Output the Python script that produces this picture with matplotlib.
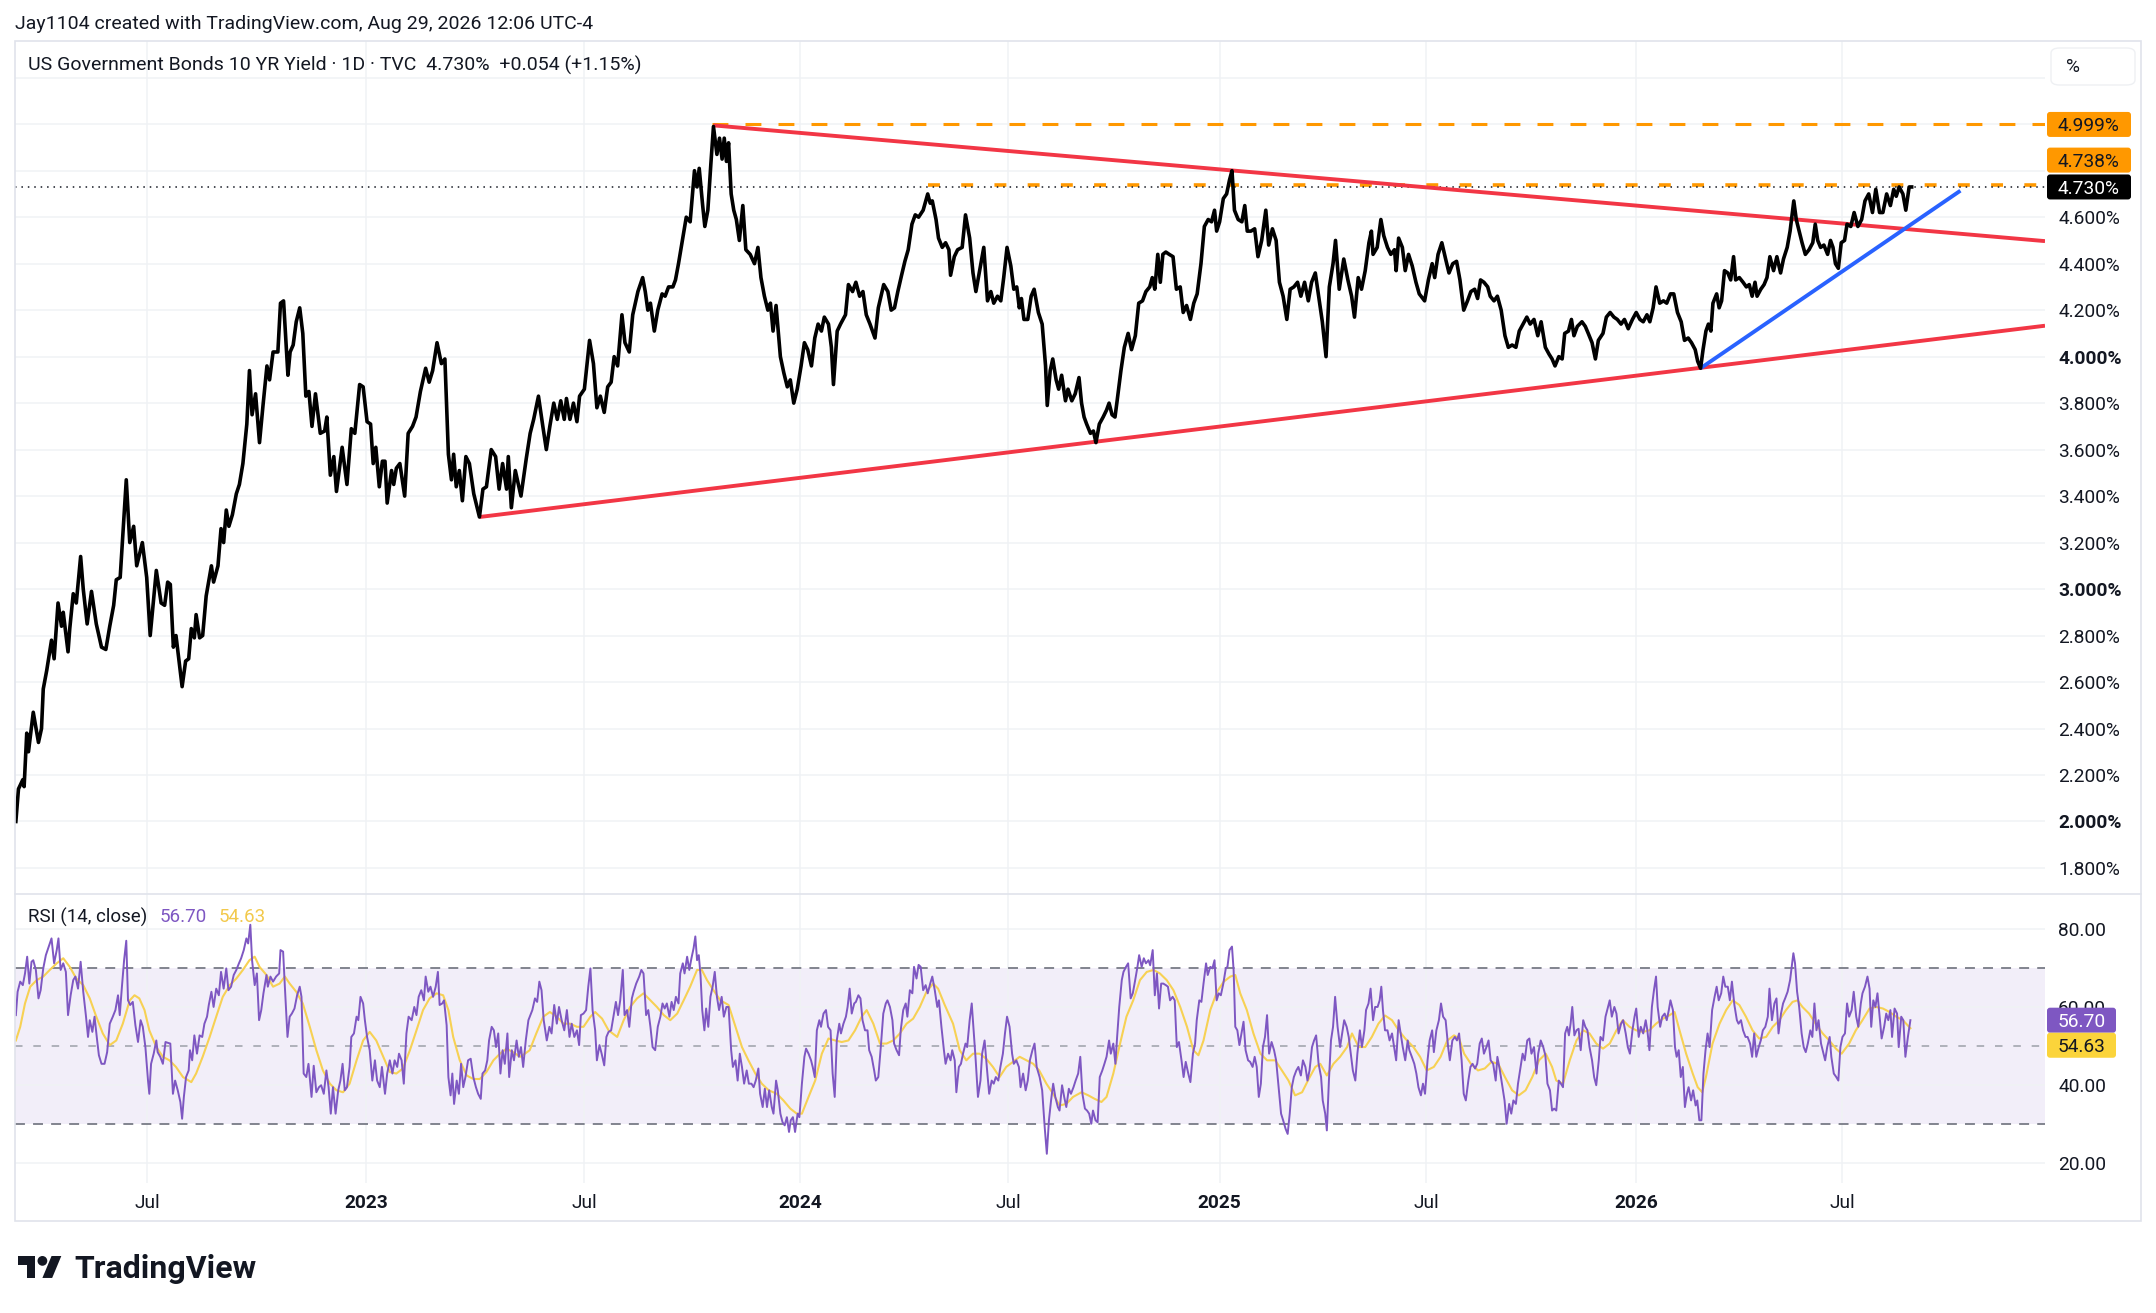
import numpy as np
import matplotlib.pyplot as plt
from matplotlib.patches import Rectangle, FancyBboxPatch, Polygon, Circle
from matplotlib.transforms import IdentityTransform

W, H = 2156, 1313
plt.rcParams['font.family'] = ['Roboto', 'DejaVu Sans']

TEXT = '#131722'
GRID = '#F0F2F5'
RED = '#F23645'
BLUE = '#2962FF'
ORANGE = '#FF9800'
PURPLE = '#7E57C2'
YELLOW = '#F7D154'

# US 10Y yield, daily close (decimal year, %)
price_pts = [
    (2022.198, 2.00), (2022.204, 2.14), (2022.214, 2.18), (2022.217, 2.15), (2022.223, 2.38),
    (2022.227, 2.30), (2022.238, 2.47), (2022.250, 2.34), (2022.257, 2.40), (2022.261, 2.57),
    (2022.269, 2.65), (2022.280, 2.78), (2022.286, 2.70), (2022.295, 2.94), (2022.303, 2.84),
    (2022.307, 2.90), (2022.318, 2.73), (2022.322, 2.83), (2022.330, 2.98), (2022.337, 2.94),
    (2022.347, 3.14), (2022.353, 3.00), (2022.362, 2.85), (2022.372, 2.99), (2022.383, 2.85),
    (2022.395, 2.75), (2022.405, 2.74), (2022.414, 2.84), (2022.423, 2.93), (2022.429, 3.04),
    (2022.438, 3.05), (2022.452, 3.47), (2022.460, 3.20), (2022.469, 3.27), (2022.476, 3.10),
    (2022.489, 3.20), (2022.499, 3.05), (2022.507, 2.80), (2022.521, 3.08), (2022.532, 2.94),
    (2022.540, 2.93), (2022.547, 3.03), (2022.553, 3.02), (2022.560, 2.75), (2022.566, 2.80),
    (2022.580, 2.58), (2022.588, 2.69), (2022.595, 2.70), (2022.601, 2.83), (2022.608, 2.79),
    (2022.612, 2.89), (2022.620, 2.79), (2022.627, 2.80), (2022.635, 2.97), (2022.647, 3.10),
    (2022.652, 3.03), (2022.662, 3.10), (2022.669, 3.26), (2022.675, 3.20), (2022.681, 3.34),
    (2022.687, 3.27), (2022.695, 3.32), (2022.704, 3.41), (2022.711, 3.45), (2022.719, 3.54),
    (2022.728, 3.71), (2022.734, 3.94), (2022.740, 3.75), (2022.748, 3.84), (2022.757, 3.63),
    (2022.765, 3.79), (2022.774, 3.96), (2022.780, 3.90), (2022.788, 4.02), (2022.799, 4.02),
    (2022.805, 4.23), (2022.812, 4.24), (2022.822, 3.92), (2022.827, 4.02), (2022.834, 4.05),
    (2022.841, 4.15), (2022.849, 4.21), (2022.856, 4.10), (2022.863, 3.83), (2022.870, 3.85),
    (2022.877, 3.70), (2022.885, 3.84), (2022.896, 3.67), (2022.906, 3.68), (2022.911, 3.74),
    (2022.919, 3.49), (2022.927, 3.57), (2022.933, 3.42), (2022.946, 3.61), (2022.957, 3.45),
    (2022.967, 3.69), (2022.975, 3.67), (2022.986, 3.88), (2022.994, 3.87), (2023.003, 3.72),
    (2023.011, 3.71), (2023.017, 3.54), (2023.023, 3.61), (2023.031, 3.44), (2023.038, 3.55),
    (2023.044, 3.55), (2023.049, 3.37), (2023.059, 3.51), (2023.064, 3.45), (2023.070, 3.52),
    (2023.078, 3.54), (2023.089, 3.40), (2023.097, 3.67), (2023.107, 3.70), (2023.115, 3.74),
    (2023.125, 3.85), (2023.137, 3.95), (2023.145, 3.89), (2023.153, 3.94), (2023.163, 4.06),
    (2023.173, 3.97), (2023.181, 3.99), (2023.189, 3.58), (2023.196, 3.47), (2023.201, 3.58),
    (2023.207, 3.44), (2023.214, 3.51), (2023.221, 3.38), (2023.229, 3.57), (2023.237, 3.54),
    (2023.247, 3.41), (2023.260, 3.31), (2023.268, 3.43), (2023.276, 3.44), (2023.287, 3.60),
    (2023.297, 3.57), (2023.305, 3.43), (2023.313, 3.54), (2023.322, 3.43), (2023.326, 3.57),
    (2023.333, 3.35), (2023.342, 3.51), (2023.355, 3.40), (2023.367, 3.56), (2023.376, 3.67),
    (2023.384, 3.73), (2023.395, 3.83), (2023.405, 3.70), (2023.413, 3.60), (2023.421, 3.70),
    (2023.430, 3.80), (2023.438, 3.73), (2023.446, 3.81), (2023.454, 3.73), (2023.459, 3.82),
    (2023.467, 3.73), (2023.475, 3.80), (2023.483, 3.72), (2023.489, 3.83), (2023.500, 3.86),
    (2023.512, 4.07), (2023.521, 3.97), (2023.529, 3.78), (2023.537, 3.83), (2023.546, 3.76),
    (2023.554, 3.87), (2023.562, 3.89), (2023.569, 4.00), (2023.577, 3.96), (2023.587, 4.18),
    (2023.594, 4.06), (2023.604, 4.02), (2023.612, 4.18), (2023.624, 4.28), (2023.635, 4.34),
    (2023.641, 4.28), (2023.647, 4.20), (2023.653, 4.23), (2023.662, 4.11), (2023.670, 4.20),
    (2023.680, 4.27), (2023.687, 4.26), (2023.695, 4.30), (2023.705, 4.30), (2023.711, 4.33),
    (2023.718, 4.40), (2023.728, 4.51), (2023.736, 4.60), (2023.745, 4.58), (2023.755, 4.80),
    (2023.761, 4.73), (2023.766, 4.81), (2023.774, 4.65), (2023.779, 4.56), (2023.786, 4.63),
    (2023.793, 4.83), (2023.799, 4.99), (2023.807, 4.87), (2023.813, 4.94), (2023.819, 4.85),
    (2023.824, 4.94), (2023.829, 4.84), (2023.834, 4.92), (2023.840, 4.70), (2023.846, 4.63),
    (2023.852, 4.59), (2023.859, 4.50), (2023.867, 4.65), (2023.874, 4.46), (2023.884, 4.44),
    (2023.894, 4.40), (2023.902, 4.47), (2023.909, 4.34), (2023.917, 4.26), (2023.925, 4.20),
    (2023.931, 4.23), (2023.937, 4.11), (2023.944, 4.22), (2023.954, 4.00), (2023.962, 3.93),
    (2023.970, 3.87), (2023.977, 3.90), (2023.985, 3.80), (2023.993, 3.86), (2024.002, 3.96),
    (2024.010, 4.06), (2024.018, 4.03), (2024.027, 3.96), (2024.035, 4.08), (2024.043, 4.14),
    (2024.051, 4.11), (2024.058, 4.17), (2024.068, 4.14), (2024.075, 4.04), (2024.080, 3.88),
    (2024.089, 4.11), (2024.097, 4.14), (2024.109, 4.18), (2024.116, 4.31), (2024.126, 4.28),
    (2024.134, 4.32), (2024.143, 4.26), (2024.151, 4.28), (2024.159, 4.18), (2024.168, 4.14),
    (2024.180, 4.08), (2024.188, 4.21), (2024.201, 4.31), (2024.211, 4.28), (2024.219, 4.20),
    (2024.227, 4.21), (2024.235, 4.28), (2024.244, 4.35), (2024.252, 4.41), (2024.260, 4.46),
    (2024.269, 4.57), (2024.277, 4.61), (2024.285, 4.60), (2024.296, 4.63), (2024.307, 4.70),
    (2024.313, 4.66), (2024.318, 4.67), (2024.327, 4.59), (2024.333, 4.51), (2024.342, 4.47),
    (2024.350, 4.49), (2024.358, 4.46), (2024.362, 4.35), (2024.371, 4.43), (2024.379, 4.46),
    (2024.390, 4.47), (2024.398, 4.61), (2024.408, 4.51), (2024.416, 4.36), (2024.423, 4.28),
    (2024.442, 4.47), (2024.451, 4.24), (2024.459, 4.28), (2024.466, 4.23), (2024.475, 4.26),
    (2024.483, 4.24), (2024.490, 4.34), (2024.498, 4.47), (2024.507, 4.39), (2024.514, 4.29),
    (2024.521, 4.30), (2024.527, 4.21), (2024.532, 4.25), (2024.538, 4.16), (2024.547, 4.16),
    (2024.555, 4.26), (2024.562, 4.29), (2024.572, 4.19), (2024.581, 4.14), (2024.589, 3.96),
    (2024.593, 3.79), (2024.600, 3.94), (2024.606, 3.99), (2024.614, 3.90), (2024.620, 3.86),
    (2024.627, 3.92), (2024.636, 3.81), (2024.642, 3.86), (2024.651, 3.81), (2024.659, 3.84),
    (2024.668, 3.91), (2024.674, 3.80), (2024.680, 3.74), (2024.686, 3.71), (2024.695, 3.67),
    (2024.702, 3.68), (2024.708, 3.63), (2024.716, 3.71), (2024.725, 3.74), (2024.733, 3.77),
    (2024.739, 3.80), (2024.746, 3.75), (2024.753, 3.74), (2024.758, 3.81), (2024.767, 3.94),
    (2024.775, 4.04), (2024.784, 4.10), (2024.792, 4.03), (2024.801, 4.09), (2024.809, 4.23),
    (2024.818, 4.24), (2024.826, 4.28), (2024.835, 4.30), (2024.841, 4.34), (2024.847, 4.29),
    (2024.854, 4.44), (2024.860, 4.32), (2024.866, 4.44), (2024.873, 4.45), (2024.881, 4.44),
    (2024.890, 4.43), (2024.898, 4.29), (2024.907, 4.30), (2024.914, 4.19), (2024.922, 4.22),
    (2024.931, 4.16), (2024.939, 4.23), (2024.947, 4.27), (2024.956, 4.40), (2024.964, 4.56),
    (2024.973, 4.59), (2024.981, 4.58), (2024.988, 4.63), (2024.993, 4.54), (2025.000, 4.58),
    (2025.009, 4.68), (2025.017, 4.70), (2025.024, 4.76), (2025.030, 4.80), (2025.036, 4.63),
    (2025.045, 4.59), (2025.054, 4.58), (2025.061, 4.65), (2025.067, 4.54), (2025.076, 4.54),
    (2025.085, 4.55), (2025.093, 4.43), (2025.102, 4.50), (2025.112, 4.63), (2025.119, 4.48),
    (2025.128, 4.55), (2025.137, 4.50), (2025.145, 4.32), (2025.154, 4.26), (2025.163, 4.16),
    (2025.171, 4.29), (2025.180, 4.30), (2025.189, 4.32), (2025.197, 4.26), (2025.206, 4.32),
    (2025.215, 4.24), (2025.223, 4.32), (2025.232, 4.36), (2025.240, 4.26), (2025.249, 4.15),
    (2025.258, 4.00), (2025.266, 4.30), (2025.275, 4.40), (2025.281, 4.50), (2025.290, 4.29),
    (2025.301, 4.42), (2025.311, 4.33), (2025.320, 4.26), (2025.327, 4.17), (2025.336, 4.34),
    (2025.344, 4.29), (2025.353, 4.37), (2025.362, 4.49), (2025.368, 4.54), (2025.372, 4.44),
    (2025.382, 4.47), (2025.391, 4.59), (2025.398, 4.52), (2025.407, 4.47), (2025.415, 4.44),
    (2025.424, 4.46), (2025.428, 4.37), (2025.434, 4.51), (2025.443, 4.47), (2025.450, 4.37),
    (2025.458, 4.44), (2025.467, 4.39), (2025.476, 4.32), (2025.484, 4.27), (2025.497, 4.24),
    (2025.506, 4.33), (2025.515, 4.40), (2025.521, 4.34), (2025.529, 4.44), (2025.538, 4.49),
    (2025.547, 4.42), (2025.555, 4.36), (2025.564, 4.40), (2025.573, 4.41), (2025.581, 4.33),
    (2025.590, 4.20), (2025.599, 4.24), (2025.607, 4.28), (2025.616, 4.29), (2025.623, 4.25),
    (2025.630, 4.33), (2025.638, 4.32), (2025.647, 4.30), (2025.653, 4.26), (2025.662, 4.24),
    (2025.670, 4.26), (2025.679, 4.20), (2025.688, 4.09), (2025.696, 4.04), (2025.705, 4.05),
    (2025.714, 4.04), (2025.722, 4.11), (2025.731, 4.14), (2025.740, 4.17), (2025.748, 4.14),
    (2025.757, 4.16), (2025.766, 4.09), (2025.774, 4.15), (2025.784, 4.04), (2025.793, 4.01),
    (2025.800, 3.99), (2025.807, 3.96), (2025.816, 4.00), (2025.824, 3.99), (2025.830, 4.10),
    (2025.839, 4.11), (2025.846, 4.16), (2025.852, 4.09), (2025.860, 4.13), (2025.871, 4.15),
    (2025.879, 4.13), (2025.886, 4.10), (2025.895, 4.06), (2025.903, 3.99), (2025.910, 4.07),
    (2025.921, 4.10), (2025.929, 4.17), (2025.938, 4.19), (2025.947, 4.17), (2025.955, 4.16),
    (2025.964, 4.14), (2025.972, 4.16), (2025.981, 4.12), (2025.991, 4.16), (2026.000, 4.19),
    (2026.009, 4.16), (2026.017, 4.15), (2026.026, 4.18), (2026.033, 4.15), (2026.041, 4.21),
    (2026.048, 4.30), (2026.057, 4.23), (2026.066, 4.24), (2026.074, 4.23), (2026.083, 4.27),
    (2026.091, 4.27), (2026.100, 4.19), (2026.109, 4.15), (2026.117, 4.07), (2026.126, 4.08),
    (2026.134, 4.06), (2026.143, 4.03), (2026.149, 3.98), (2026.156, 3.95), (2026.162, 4.03),
    (2026.169, 4.11), (2026.175, 4.14), (2026.181, 4.11), (2026.186, 4.23), (2026.195, 4.27),
    (2026.201, 4.21), (2026.207, 4.24), (2026.214, 4.37), (2026.222, 4.36), (2026.229, 4.33),
    (2026.236, 4.43), (2026.241, 4.33), (2026.250, 4.34), (2026.259, 4.32), (2026.267, 4.30),
    (2026.274, 4.31), (2026.281, 4.26), (2026.288, 4.32), (2026.293, 4.26), (2026.302, 4.29),
    (2026.310, 4.31), (2026.317, 4.34), (2026.324, 4.43), (2026.333, 4.37), (2026.341, 4.43),
    (2026.350, 4.36), (2026.357, 4.42), (2026.366, 4.47), (2026.373, 4.54), (2026.382, 4.67),
    (2026.388, 4.59), (2026.395, 4.54), (2026.402, 4.49), (2026.410, 4.44), (2026.419, 4.46),
    (2026.428, 4.49), (2026.434, 4.57), (2026.440, 4.50), (2026.447, 4.47), (2026.455, 4.48),
    (2026.464, 4.44), (2026.471, 4.50), (2026.477, 4.47), (2026.483, 4.40), (2026.490, 4.38),
    (2026.497, 4.49), (2026.505, 4.50), (2026.511, 4.57), (2026.520, 4.56), (2026.528, 4.62),
    (2026.537, 4.56), (2026.546, 4.59), (2026.554, 4.67), (2026.563, 4.70), (2026.572, 4.62),
    (2026.580, 4.72), (2026.589, 4.62), (2026.597, 4.62), (2026.606, 4.70), (2026.615, 4.65),
    (2026.623, 4.72), (2026.629, 4.69), (2026.636, 4.73), (2026.645, 4.70), (2026.652, 4.63),
    (2026.660, 4.73), (2026.666, 4.73),
]

# RSI(14)
rsi_pts = [
    (2022.198, 58.0), (2022.202, 64.0), (2022.208, 66.6), (2022.214, 65.7), (2022.219, 68.7),
    (2022.224, 73.0), (2022.229, 66.1), (2022.234, 71.7), (2022.238, 72.1), (2022.244, 69.6),
    (2022.250, 62.3), (2022.255, 64.4), (2022.261, 70.0), (2022.267, 73.4), (2022.275, 76.0),
    (2022.280, 77.7), (2022.286, 71.3), (2022.292, 74.7), (2022.296, 77.7), (2022.301, 69.6),
    (2022.307, 71.3), (2022.313, 69.1), (2022.318, 58.0), (2022.324, 63.1), (2022.330, 67.0),
    (2022.335, 67.9), (2022.341, 64.8), (2022.347, 71.7), (2022.353, 64.0), (2022.359, 58.0),
    (2022.364, 52.4), (2022.368, 56.7), (2022.374, 53.7), (2022.379, 57.6), (2022.385, 51.5),
    (2022.389, 47.7), (2022.395, 45.5), (2022.402, 45.5), (2022.408, 48.5), (2022.414, 55.8),
    (2022.421, 57.6), (2022.427, 59.3), (2022.433, 63.1), (2022.437, 58.0), (2022.442, 65.3),
    (2022.447, 72.1), (2022.452, 77.1), (2022.456, 61.8), (2022.461, 60.6), (2022.467, 61.4),
    (2022.473, 55.4), (2022.479, 51.1), (2022.485, 56.7), (2022.490, 55.0), (2022.496, 49.8),
    (2022.502, 41.2), (2022.505, 37.8), (2022.509, 45.5), (2022.515, 48.1), (2022.521, 51.5),
    (2022.524, 48.5), (2022.530, 47.3), (2022.536, 45.5), (2022.542, 51.1), (2022.547, 50.9),
    (2022.553, 50.7), (2022.559, 37.8), (2022.564, 41.2), (2022.570, 38.7), (2022.576, 35.7),
    (2022.580, 31.4), (2022.584, 37.0), (2022.589, 42.1), (2022.595, 43.8), (2022.598, 49.0),
    (2022.603, 46.4), (2022.608, 52.8), (2022.614, 48.1), (2022.620, 52.8), (2022.626, 52.4),
    (2022.631, 55.8), (2022.637, 57.6), (2022.641, 60.6), (2022.647, 64.0), (2022.652, 60.1),
    (2022.658, 64.8), (2022.664, 63.1), (2022.669, 69.1), (2022.675, 64.8), (2022.681, 70.0),
    (2022.686, 64.4), (2022.692, 65.3), (2022.698, 68.3), (2022.704, 69.6), (2022.710, 71.3),
    (2022.715, 72.6), (2022.721, 74.7), (2022.727, 77.7), (2022.731, 76.4), (2022.736, 81.2),
    (2022.740, 72.1), (2022.746, 65.7), (2022.751, 68.7), (2022.756, 56.7), (2022.761, 59.3),
    (2022.766, 63.6), (2022.773, 68.3), (2022.776, 65.3), (2022.782, 67.9), (2022.788, 66.6),
    (2022.795, 67.9), (2022.802, 68.7), (2022.805, 74.7), (2022.811, 74.3), (2022.815, 65.3),
    (2022.821, 52.4), (2022.826, 57.6), (2022.831, 58.4), (2022.837, 59.7), (2022.843, 63.1),
    (2022.849, 65.3), (2022.853, 62.7), (2022.858, 43.0), (2022.864, 42.1), (2022.869, 45.5),
    (2022.876, 37.0), (2022.881, 45.0), (2022.887, 38.2), (2022.893, 39.5), (2022.898, 40.0),
    (2022.904, 37.8), (2022.910, 43.8), (2022.915, 39.5), (2022.920, 32.7), (2022.925, 39.5),
    (2022.931, 32.7), (2022.937, 38.7), (2022.942, 41.2), (2022.947, 45.5), (2022.952, 38.7),
    (2022.957, 39.5), (2022.963, 44.7), (2022.967, 52.4), (2022.973, 53.3), (2022.979, 57.6),
    (2022.983, 56.7), (2022.988, 62.7), (2022.994, 61.0), (2022.998, 56.7), (2023.003, 52.4),
    (2023.009, 49.0), (2023.015, 41.2), (2023.021, 46.4), (2023.026, 41.2), (2023.032, 39.5),
    (2023.037, 44.7), (2023.044, 37.8), (2023.049, 43.0), (2023.055, 46.4), (2023.061, 43.0),
    (2023.066, 46.4), (2023.072, 44.7), (2023.076, 48.1), (2023.082, 46.4), (2023.087, 40.4),
    (2023.093, 53.3), (2023.098, 57.6), (2023.105, 56.7), (2023.111, 60.1), (2023.116, 58.0),
    (2023.121, 62.7), (2023.127, 64.4), (2023.133, 61.8), (2023.137, 67.9), (2023.143, 64.0),
    (2023.148, 65.3), (2023.154, 62.7), (2023.160, 65.3), (2023.165, 69.1), (2023.169, 60.6),
    (2023.175, 61.0), (2023.179, 61.8), (2023.185, 55.4), (2023.189, 42.1), (2023.194, 37.4),
    (2023.198, 43.0), (2023.202, 35.2), (2023.208, 41.2), (2023.213, 37.8), (2023.218, 45.5),
    (2023.223, 39.5), (2023.228, 42.1), (2023.234, 46.4), (2023.240, 46.8), (2023.246, 42.1),
    (2023.252, 39.5), (2023.257, 37.8), (2023.263, 36.5), (2023.267, 43.0), (2023.273, 43.8),
    (2023.278, 46.4), (2023.282, 51.5), (2023.288, 55.0), (2023.293, 54.1), (2023.298, 49.8),
    (2023.303, 53.3), (2023.308, 43.0), (2023.313, 49.0), (2023.318, 45.5), (2023.324, 53.3),
    (2023.328, 42.1), (2023.334, 49.0), (2023.339, 46.4), (2023.345, 51.5), (2023.350, 47.3),
    (2023.355, 49.8), (2023.360, 44.7), (2023.366, 51.5), (2023.372, 56.7), (2023.381, 59.3),
    (2023.387, 62.3), (2023.392, 61.4), (2023.397, 66.6), (2023.402, 64.4), (2023.407, 56.7),
    (2023.414, 51.5), (2023.420, 55.0), (2023.425, 53.3), (2023.431, 60.6), (2023.437, 55.8),
    (2023.442, 60.1), (2023.448, 56.7), (2023.454, 54.1), (2023.460, 59.3), (2023.466, 52.4),
    (2023.471, 55.8), (2023.477, 52.4), (2023.483, 54.1), (2023.488, 50.3), (2023.492, 58.0),
    (2023.498, 58.4), (2023.504, 59.3), (2023.509, 65.3), (2023.514, 70.0), (2023.519, 59.3),
    (2023.525, 54.1), (2023.529, 46.4), (2023.535, 50.3), (2023.540, 48.1), (2023.546, 45.1),
    (2023.551, 52.4), (2023.556, 53.7), (2023.562, 54.1), (2023.568, 58.0), (2023.573, 61.4),
    (2023.578, 58.0), (2023.583, 61.8), (2023.589, 69.6), (2023.593, 58.0), (2023.599, 59.3),
    (2023.604, 55.0), (2023.610, 62.3), (2023.614, 64.0), (2023.620, 66.1), (2023.627, 67.9),
    (2023.632, 69.6), (2023.637, 68.7), (2023.643, 58.0), (2023.648, 59.3), (2023.653, 55.0),
    (2023.658, 49.8), (2023.664, 49.0), (2023.670, 55.0), (2023.676, 57.6), (2023.681, 61.0),
    (2023.686, 59.7), (2023.691, 61.0), (2023.697, 57.6), (2023.702, 61.4), (2023.707, 59.3),
    (2023.712, 62.7), (2023.718, 61.0), (2023.722, 68.7), (2023.728, 71.3), (2023.732, 68.7),
    (2023.738, 73.0), (2023.743, 69.6), (2023.748, 72.6), (2023.753, 75.2), (2023.757, 78.2),
    (2023.761, 72.1), (2023.765, 73.4), (2023.769, 68.3), (2023.773, 59.3), (2023.778, 54.1),
    (2023.782, 59.7), (2023.787, 55.0), (2023.792, 62.7), (2023.797, 65.3), (2023.802, 69.1),
    (2023.807, 62.7), (2023.812, 59.3), (2023.818, 62.7), (2023.823, 57.6), (2023.829, 60.1),
    (2023.834, 60.1), (2023.840, 49.0), (2023.844, 44.7), (2023.850, 46.4), (2023.855, 41.2),
    (2023.860, 48.1), (2023.865, 44.7), (2023.870, 40.4), (2023.876, 43.8), (2023.881, 40.4),
    (2023.887, 40.4), (2023.892, 39.5), (2023.897, 41.2), (2023.903, 44.3), (2023.907, 37.8),
    (2023.913, 34.4), (2023.918, 39.1), (2023.923, 34.4), (2023.928, 38.7), (2023.934, 34.4),
    (2023.938, 32.7), (2023.944, 41.2), (2023.948, 38.7), (2023.954, 32.7), (2023.959, 30.5),
    (2023.964, 29.7), (2023.969, 31.8), (2023.974, 28.0), (2023.978, 31.0), (2023.983, 31.8),
    (2023.988, 28.0), (2023.994, 32.7), (2023.998, 31.8), (2024.004, 40.4), (2024.010, 47.3),
    (2024.014, 49.4), (2024.020, 48.1), (2024.026, 46.4), (2024.030, 44.7), (2024.035, 42.1),
    (2024.040, 54.1), (2024.046, 56.7), (2024.050, 55.0), (2024.056, 58.4), (2024.062, 59.3),
    (2024.067, 55.0), (2024.073, 54.1), (2024.078, 43.0), (2024.083, 37.0), (2024.088, 51.5),
    (2024.094, 55.8), (2024.098, 53.3), (2024.104, 55.8), (2024.110, 57.6), (2024.114, 60.1),
    (2024.119, 64.8), (2024.124, 58.4), (2024.130, 61.0), (2024.134, 61.4), (2024.140, 63.1),
    (2024.145, 62.3), (2024.150, 56.7), (2024.156, 54.1), (2024.162, 54.1), (2024.166, 49.0),
    (2024.172, 47.3), (2024.178, 43.8), (2024.182, 41.2), (2024.188, 42.1), (2024.194, 49.8),
    (2024.200, 58.4), (2024.206, 61.0), (2024.210, 61.8), (2024.216, 60.1), (2024.222, 56.7),
    (2024.226, 50.7), (2024.232, 49.0), (2024.238, 47.7), (2024.242, 54.1), (2024.248, 59.3),
    (2024.254, 61.0), (2024.258, 57.6), (2024.264, 64.4), (2024.270, 63.6), (2024.274, 70.4),
    (2024.280, 67.4), (2024.285, 70.9), (2024.290, 70.4), (2024.296, 64.4), (2024.302, 65.7),
    (2024.307, 63.6), (2024.313, 66.1), (2024.318, 67.9), (2024.324, 64.4), (2024.330, 60.1),
    (2024.334, 61.8), (2024.340, 55.0), (2024.346, 49.0), (2024.350, 45.5), (2024.356, 48.1),
    (2024.362, 46.4), (2024.366, 49.0), (2024.372, 46.4), (2024.376, 38.2), (2024.382, 44.7),
    (2024.387, 45.5), (2024.392, 48.1), (2024.398, 50.7), (2024.402, 49.8), (2024.408, 56.7),
    (2024.413, 61.0), (2024.418, 53.3), (2024.422, 47.3), (2024.428, 37.0), (2024.434, 41.2),
    (2024.438, 48.1), (2024.444, 51.5), (2024.450, 43.8), (2024.455, 37.8), (2024.461, 41.2),
    (2024.466, 40.4), (2024.471, 42.1), (2024.477, 41.2), (2024.482, 44.7), (2024.488, 48.1),
    (2024.493, 53.3), (2024.498, 57.6), (2024.504, 55.0), (2024.510, 48.1), (2024.514, 45.5),
    (2024.520, 46.4), (2024.526, 44.7), (2024.530, 39.5), (2024.536, 43.0), (2024.542, 38.7),
    (2024.547, 41.2), (2024.552, 46.4), (2024.558, 49.0), (2024.563, 50.7), (2024.568, 44.7),
    (2024.575, 42.1), (2024.581, 38.7), (2024.587, 29.2), (2024.592, 22.4), (2024.597, 31.0),
    (2024.602, 36.1), (2024.607, 40.4), (2024.612, 37.0), (2024.618, 34.4), (2024.622, 33.5),
    (2024.628, 40.0), (2024.633, 37.0), (2024.638, 34.4), (2024.644, 39.1), (2024.649, 37.8),
    (2024.655, 39.5), (2024.660, 41.2), (2024.666, 43.0), (2024.671, 47.3), (2024.676, 37.8),
    (2024.682, 34.0), (2024.687, 33.5), (2024.692, 32.7), (2024.697, 30.1), (2024.701, 33.5),
    (2024.707, 31.0), (2024.712, 30.5), (2024.717, 42.1), (2024.723, 43.8), (2024.728, 45.5),
    (2024.733, 47.3), (2024.739, 51.5), (2024.743, 48.1), (2024.749, 50.7), (2024.754, 45.5),
    (2024.758, 52.4), (2024.763, 60.1), (2024.769, 67.0), (2024.773, 69.1), (2024.779, 70.4),
    (2024.784, 71.3), (2024.790, 62.3), (2024.795, 63.6), (2024.800, 66.6), (2024.806, 70.4),
    (2024.810, 73.4), (2024.816, 70.4), (2024.821, 72.6), (2024.826, 71.3), (2024.832, 72.1),
    (2024.836, 70.8), (2024.842, 74.7), (2024.847, 63.1), (2024.852, 68.7), (2024.857, 59.7),
    (2024.862, 66.1), (2024.867, 66.1), (2024.873, 65.7), (2024.878, 65.3), (2024.883, 61.8),
    (2024.889, 62.7), (2024.894, 61.8), (2024.899, 49.8), (2024.904, 51.1), (2024.910, 46.4),
    (2024.915, 42.1), (2024.920, 46.0), (2024.926, 43.0), (2024.931, 40.8), (2024.937, 48.1),
    (2024.942, 50.7), (2024.946, 56.7), (2024.952, 61.8), (2024.957, 61.4), (2024.962, 66.1),
    (2024.968, 71.3), (2024.972, 68.3), (2024.978, 70.4), (2024.983, 70.0), (2024.988, 72.1),
    (2024.993, 61.8), (2024.998, 63.6), (2025.003, 63.1), (2025.009, 66.1), (2025.015, 70.0),
    (2025.019, 70.4), (2025.024, 74.7), (2025.030, 75.6), (2025.034, 69.5), (2025.038, 55.0),
    (2025.043, 54.1), (2025.048, 50.3), (2025.053, 53.3), (2025.058, 56.3), (2025.063, 49.0),
    (2025.069, 46.4), (2025.074, 46.0), (2025.080, 44.7), (2025.085, 47.3), (2025.090, 44.7),
    (2025.095, 37.0), (2025.100, 40.4), (2025.105, 49.8), (2025.110, 52.4), (2025.115, 58.0),
    (2025.120, 48.1), (2025.126, 51.1), (2025.132, 49.0), (2025.137, 46.4), (2025.143, 39.5),
    (2025.149, 32.7), (2025.154, 31.0), (2025.160, 28.8), (2025.165, 27.5), (2025.170, 32.7),
    (2025.175, 39.5), (2025.180, 42.1), (2025.186, 43.8), (2025.191, 44.7), (2025.197, 42.5),
    (2025.202, 46.4), (2025.208, 44.7), (2025.213, 41.2), (2025.218, 43.8), (2025.224, 49.8),
    (2025.229, 51.5), (2025.234, 52.8), (2025.240, 45.5), (2025.246, 42.1), (2025.250, 36.1),
    (2025.256, 32.7), (2025.260, 28.4), (2025.265, 41.2), (2025.270, 51.5), (2025.275, 55.0),
    (2025.280, 62.7), (2025.286, 55.0), (2025.292, 49.8), (2025.297, 53.3), (2025.302, 56.7),
    (2025.308, 55.0), (2025.313, 52.4), (2025.318, 48.1), (2025.323, 43.8), (2025.329, 41.2),
    (2025.334, 48.1), (2025.340, 54.1), (2025.345, 49.8), (2025.351, 54.1), (2025.355, 59.3),
    (2025.361, 61.0), (2025.366, 64.8), (2025.372, 56.7), (2025.377, 60.1), (2025.383, 60.1),
    (2025.388, 61.8), (2025.392, 65.3), (2025.396, 59.3), (2025.401, 54.1), (2025.407, 54.1),
    (2025.412, 51.5), (2025.418, 53.3), (2025.423, 49.8), (2025.428, 46.4), (2025.434, 56.7),
    (2025.439, 53.3), (2025.444, 49.8), (2025.450, 46.4), (2025.456, 51.5), (2025.460, 49.0),
    (2025.466, 47.3), (2025.472, 45.5), (2025.477, 43.0), (2025.482, 39.5), (2025.488, 37.4),
    (2025.493, 40.4), (2025.498, 37.8), (2025.504, 46.4), (2025.509, 51.5), (2025.515, 54.1),
    (2025.519, 48.5), (2025.525, 54.1), (2025.531, 56.7), (2025.536, 61.0), (2025.541, 57.6),
    (2025.547, 56.7), (2025.553, 49.8), (2025.557, 46.4), (2025.563, 51.5), (2025.569, 52.4),
    (2025.574, 51.5), (2025.579, 53.3), (2025.585, 46.4), (2025.590, 37.8), (2025.595, 36.1),
    (2025.601, 41.2), (2025.606, 44.7), (2025.611, 45.5), (2025.617, 44.3), (2025.622, 45.5),
    (2025.628, 50.7), (2025.633, 52.0), (2025.638, 48.1), (2025.644, 49.8), (2025.649, 51.5),
    (2025.654, 46.4), (2025.660, 45.5), (2025.666, 41.2), (2025.670, 47.3), (2025.676, 43.8),
    (2025.682, 39.5), (2025.687, 36.1), (2025.692, 30.1), (2025.698, 35.2), (2025.703, 32.7),
    (2025.708, 36.1), (2025.714, 35.2), (2025.719, 40.4), (2025.725, 44.7), (2025.730, 48.1),
    (2025.735, 46.4), (2025.741, 51.5), (2025.746, 52.0), (2025.751, 48.1), (2025.757, 49.8),
    (2025.763, 43.0), (2025.767, 48.1), (2025.773, 51.5), (2025.779, 49.8), (2025.784, 47.7),
    (2025.789, 40.4), (2025.795, 38.7), (2025.800, 33.5), (2025.805, 34.0), (2025.810, 33.5),
    (2025.816, 41.2), (2025.821, 40.4), (2025.826, 39.5), (2025.831, 53.3), (2025.836, 55.0),
    (2025.840, 52.8), (2025.844, 55.8), (2025.848, 60.1), (2025.853, 52.8), (2025.858, 54.1),
    (2025.863, 54.5), (2025.868, 49.0), (2025.874, 56.7), (2025.879, 55.0), (2025.884, 54.1),
    (2025.889, 49.8), (2025.895, 46.4), (2025.900, 42.1), (2025.905, 40.0), (2025.911, 46.4),
    (2025.915, 52.4), (2025.921, 51.5), (2025.927, 57.6), (2025.931, 59.3), (2025.937, 61.8),
    (2025.942, 57.6), (2025.948, 60.1), (2025.953, 58.4), (2025.958, 53.3), (2025.964, 55.8),
    (2025.969, 56.7), (2025.975, 53.3), (2025.980, 49.8), (2025.985, 48.1), (2025.991, 54.1),
    (2025.996, 57.6), (2026.000, 59.7), (2026.006, 52.4), (2026.011, 55.0), (2026.017, 53.3),
    (2026.023, 56.7), (2026.027, 54.1), (2026.032, 49.0), (2026.038, 60.1), (2026.043, 64.4),
    (2026.048, 67.9), (2026.052, 60.1), (2026.058, 55.0), (2026.063, 57.6), (2026.069, 58.4),
    (2026.074, 56.7), (2026.079, 59.3), (2026.083, 61.8), (2026.089, 59.3), (2026.094, 49.8),
    (2026.098, 47.3), (2026.103, 49.0), (2026.108, 42.1), (2026.113, 44.7), (2026.118, 34.4),
    (2026.123, 37.8), (2026.127, 39.5), (2026.133, 36.1), (2026.138, 38.7), (2026.144, 34.8),
    (2026.148, 36.1), (2026.153, 31.0), (2026.158, 31.0), (2026.163, 43.0), (2026.168, 49.0),
    (2026.173, 53.3), (2026.178, 49.8), (2026.184, 59.3), (2026.190, 62.7), (2026.195, 65.3),
    (2026.200, 61.8), (2026.206, 63.6), (2026.211, 67.9), (2026.216, 65.3), (2026.222, 65.3),
    (2026.227, 61.8), (2026.232, 66.6), (2026.238, 60.6), (2026.244, 56.7), (2026.248, 55.8),
    (2026.254, 56.7), (2026.259, 54.1), (2026.265, 52.4), (2026.270, 52.4), (2026.276, 50.7),
    (2026.281, 47.3), (2026.286, 53.3), (2026.291, 47.3), (2026.297, 49.8), (2026.302, 51.5),
    (2026.307, 54.1), (2026.313, 55.0), (2026.319, 57.6), (2026.323, 64.8), (2026.329, 56.7),
    (2026.335, 61.0), (2026.340, 62.3), (2026.345, 53.3), (2026.351, 58.4), (2026.356, 61.0),
    (2026.361, 62.3), (2026.367, 64.0), (2026.373, 67.0), (2026.377, 70.4), (2026.381, 73.9),
    (2026.385, 71.3), (2026.390, 64.0), (2026.395, 60.1), (2026.401, 53.3), (2026.406, 49.8),
    (2026.411, 48.5), (2026.416, 50.7), (2026.422, 54.1), (2026.427, 52.4), (2026.432, 61.0),
    (2026.437, 54.1), (2026.442, 56.7), (2026.448, 50.7), (2026.452, 49.0), (2026.458, 46.4),
    (2026.463, 49.8), (2026.469, 52.4), (2026.473, 47.3), (2026.479, 43.0), (2026.485, 42.1),
    (2026.490, 41.2), (2026.495, 49.8), (2026.500, 52.4), (2026.506, 53.3), (2026.511, 61.0),
    (2026.516, 57.6), (2026.522, 59.3), (2026.527, 64.0), (2026.533, 57.6), (2026.538, 55.0),
    (2026.544, 61.0), (2026.548, 63.6), (2026.554, 65.3), (2026.560, 67.9), (2026.565, 64.8),
    (2026.569, 55.0), (2026.574, 61.8), (2026.579, 60.1), (2026.584, 63.6), (2026.590, 56.7),
    (2026.594, 52.0), (2026.600, 55.0), (2026.605, 58.4), (2026.610, 56.7), (2026.615, 59.3),
    (2026.619, 52.4), (2026.625, 59.7), (2026.631, 58.4), (2026.635, 49.8), (2026.641, 57.6),
    (2026.646, 56.7), (2026.651, 47.3), (2026.657, 52.4), (2026.663, 56.7),
]

# RSI-based moving average (yellow)
rsi_ma_pts = [
    (2022.198, 51.5), (2022.208, 55.0), (2022.219, 61.0), (2022.231, 65.3), (2022.246, 67.0),
    (2022.261, 67.9), (2022.276, 69.6), (2022.292, 71.3), (2022.307, 72.6), (2022.322, 70.4),
    (2022.337, 67.4), (2022.353, 65.7), (2022.368, 62.3), (2022.383, 57.6), (2022.398, 53.3),
    (2022.414, 50.3), (2022.429, 51.5), (2022.444, 55.8), (2022.460, 61.8), (2022.471, 63.1),
    (2022.482, 62.3), (2022.494, 59.3), (2022.505, 54.1), (2022.521, 49.8), (2022.536, 47.3),
    (2022.551, 46.4), (2022.566, 44.7), (2022.582, 42.1), (2022.601, 40.8), (2022.612, 43.0),
    (2022.627, 47.3), (2022.643, 52.4), (2022.658, 57.6), (2022.673, 62.7), (2022.689, 65.7),
    (2022.704, 67.4), (2022.719, 69.6), (2022.734, 72.1), (2022.746, 73.0), (2022.757, 70.4),
    (2022.773, 68.3), (2022.788, 65.3), (2022.803, 66.1), (2022.815, 67.9), (2022.826, 66.1),
    (2022.841, 64.0), (2022.856, 61.0), (2022.872, 55.0), (2022.887, 49.0), (2022.902, 43.8),
    (2022.918, 40.4), (2022.933, 38.7), (2022.948, 38.2), (2022.963, 40.4), (2022.979, 46.4),
    (2022.994, 51.5), (2023.009, 53.7), (2023.024, 51.5), (2023.040, 47.3), (2023.055, 43.4),
    (2023.070, 43.0), (2023.085, 44.3), (2023.101, 49.0), (2023.116, 54.1), (2023.131, 59.3),
    (2023.146, 62.3), (2023.162, 63.6), (2023.177, 63.1), (2023.189, 59.3), (2023.200, 52.4),
    (2023.215, 46.4), (2023.231, 42.5), (2023.246, 41.6), (2023.261, 41.6), (2023.276, 43.4),
    (2023.292, 46.4), (2023.307, 48.1), (2023.322, 49.4), (2023.337, 48.5), (2023.353, 47.3),
    (2023.364, 48.1), (2023.375, 49.0), (2023.390, 53.3), (2023.406, 57.6), (2023.421, 58.8),
    (2023.437, 57.6), (2023.452, 55.8), (2023.468, 55.8), (2023.483, 55.0), (2023.498, 55.0),
    (2023.514, 57.6), (2023.525, 58.8), (2023.541, 57.1), (2023.556, 54.1), (2023.576, 52.4),
    (2023.591, 56.7), (2023.606, 60.1), (2023.622, 62.3), (2023.637, 63.6), (2023.653, 61.8),
    (2023.668, 60.1), (2023.684, 58.0), (2023.699, 56.7), (2023.715, 58.4), (2023.730, 61.8),
    (2023.745, 65.3), (2023.761, 69.6), (2023.772, 69.6), (2023.784, 67.0), (2023.799, 64.4),
    (2023.815, 61.8), (2023.834, 60.6), (2023.850, 55.0), (2023.865, 49.8), (2023.880, 46.4),
    (2023.896, 43.0), (2023.911, 40.4), (2023.927, 38.7), (2023.946, 37.8), (2023.961, 36.1),
    (2023.977, 34.0), (2023.992, 32.7), (2024.004, 32.7), (2024.020, 37.0), (2024.036, 41.2),
    (2024.052, 48.1), (2024.068, 52.0), (2024.084, 51.5), (2024.100, 51.1), (2024.116, 51.5),
    (2024.132, 54.1), (2024.148, 57.6), (2024.160, 59.3), (2024.176, 55.8), (2024.192, 50.7),
    (2024.208, 50.7), (2024.224, 51.5), (2024.240, 53.3), (2024.256, 55.8), (2024.272, 57.1),
    (2024.288, 60.1), (2024.304, 64.0), (2024.320, 66.1), (2024.332, 64.8), (2024.348, 60.6),
    (2024.368, 55.8), (2024.384, 49.0), (2024.400, 46.4), (2024.416, 48.1), (2024.432, 48.1),
    (2024.448, 46.8), (2024.464, 44.7), (2024.480, 42.1), (2024.496, 44.7), (2024.512, 46.0),
    (2024.528, 47.3), (2024.544, 46.4), (2024.560, 45.5), (2024.574, 43.8), (2024.591, 40.4),
    (2024.607, 37.8), (2024.622, 34.8), (2024.638, 35.2), (2024.654, 37.0), (2024.674, 38.2),
    (2024.690, 37.4), (2024.705, 36.5), (2024.721, 35.7), (2024.733, 37.0), (2024.749, 43.0),
    (2024.765, 50.7), (2024.780, 57.6), (2024.796, 61.8), (2024.812, 67.0), (2024.828, 69.1),
    (2024.844, 69.6), (2024.859, 68.7), (2024.875, 67.0), (2024.891, 64.4), (2024.907, 60.1),
    (2024.923, 55.0), (2024.938, 49.0), (2024.950, 47.7), (2024.962, 51.5), (2024.978, 59.3),
    (2024.994, 64.0), (2025.010, 66.6), (2025.026, 67.9), (2025.038, 68.3), (2025.050, 63.6),
    (2025.066, 59.3), (2025.082, 53.3), (2025.099, 48.1), (2025.115, 46.4), (2025.135, 46.4),
    (2025.151, 43.8), (2025.167, 41.2), (2025.183, 37.4), (2025.200, 38.2), (2025.216, 41.6),
    (2025.232, 44.7), (2025.244, 45.5), (2025.260, 42.5), (2025.276, 45.5), (2025.292, 47.3),
    (2025.309, 49.8), (2025.321, 53.3), (2025.337, 49.8), (2025.353, 49.8), (2025.369, 52.4),
    (2025.385, 55.8), (2025.401, 57.9), (2025.418, 56.7), (2025.434, 54.1), (2025.450, 52.0),
    (2025.470, 49.8), (2025.486, 47.3), (2025.502, 43.8), (2025.519, 44.7), (2025.535, 47.3),
    (2025.551, 51.5), (2025.567, 52.8), (2025.579, 52.0), (2025.591, 48.1), (2025.607, 45.5),
    (2025.624, 43.8), (2025.640, 44.3), (2025.656, 46.0), (2025.672, 45.5), (2025.688, 42.1),
    (2025.705, 38.7), (2025.721, 37.4), (2025.737, 38.7), (2025.753, 42.1), (2025.769, 46.4),
    (2025.785, 48.1), (2025.800, 44.7), (2025.810, 41.2), (2025.826, 40.4), (2025.842, 46.4),
    (2025.858, 51.5), (2025.874, 54.1), (2025.889, 53.3), (2025.905, 50.7), (2025.921, 49.4),
    (2025.937, 50.7), (2025.953, 54.1), (2025.968, 56.7), (2025.984, 55.0), (2026.000, 54.1),
    (2026.016, 53.7), (2026.032, 54.1), (2026.048, 55.8), (2026.065, 57.1), (2026.081, 58.0),
    (2026.093, 58.8), (2026.105, 54.1), (2026.121, 48.1), (2026.137, 43.0), (2026.149, 39.5),
    (2026.160, 38.2), (2026.169, 42.1), (2026.185, 50.7), (2026.202, 55.8), (2026.218, 59.3),
    (2026.234, 61.8), (2026.250, 60.6), (2026.266, 57.6), (2026.282, 54.1), (2026.298, 52.0),
    (2026.315, 52.4), (2026.331, 55.0), (2026.347, 56.7), (2026.363, 59.3), (2026.379, 61.4),
    (2026.391, 61.8), (2026.403, 60.1), (2026.419, 58.4), (2026.435, 55.8), (2026.452, 53.3),
    (2026.468, 51.5), (2026.484, 49.4), (2026.498, 48.1), (2026.516, 50.7), (2026.532, 54.1),
    (2026.548, 56.7), (2026.565, 59.7), (2026.581, 60.1), (2026.597, 59.7), (2026.613, 58.8),
    (2026.629, 57.6), (2026.645, 56.7), (2026.663, 54.63),
]

# drawn trend lines (start, end)
upper_line = [(2023.799, 4.995), (2026.986, 4.497)]
lower_line = [(2023.260, 3.310), (2026.986, 4.133)]
blue_line = [(2026.156, 3.950), (2026.783, 4.714)]
high_level = 4.999
high_start = 2023.796
recent_level = 4.738
recent_start = 2024.308
last_close = 4.730
rsi_last, rsi_ma_last = 56.70, 54.63

x_ticks = [2022.5, 2023.0, 2023.5, 2024.0, 2024.5, 2025.0, 2025.5, 2026.0, 2026.5]
x_labels = ['Jul', '2023', 'Jul', '2024', 'Jul', '2025', 'Jul', '2026', 'Jul']
price_ticks = np.round(np.arange(1.8, 5.21, 0.2), 1)
rsi_ticks = [20, 40, 60, 80]
x_range = (2022.196, 2026.986)

# the time scale counts trading bars, so the spacing of half-years is uneven;
# bar-position of each tick relative to the pane, as laid out on the chart
bar_anchor_t = [x_range[0]] + x_ticks + [x_range[1]]
bar_anchor_p = [0.0, 96.1, 255.1, 414.1, 571.1, 722.1, 876.1, 1026.1, 1179.1, 1329.1, 1476.4]


def time_fwd(t):
    t = np.asarray(t, dtype=float)
    p = np.interp(t, bar_anchor_t, bar_anchor_p)
    lo = (bar_anchor_p[1] - bar_anchor_p[0]) / (bar_anchor_t[1] - bar_anchor_t[0])
    hi = (bar_anchor_p[-1] - bar_anchor_p[-2]) / (bar_anchor_t[-1] - bar_anchor_t[-2])
    p = np.where(t < bar_anchor_t[0], bar_anchor_p[0] + (t - bar_anchor_t[0]) * lo, p)
    p = np.where(t > bar_anchor_t[-1], bar_anchor_p[-1] + (t - bar_anchor_t[-1]) * hi, p)
    return p


def time_inv(p):
    p = np.asarray(p, dtype=float)
    t = np.interp(p, bar_anchor_p, bar_anchor_t)
    lo = (bar_anchor_t[1] - bar_anchor_t[0]) / (bar_anchor_p[1] - bar_anchor_p[0])
    hi = (bar_anchor_t[-1] - bar_anchor_t[-2]) / (bar_anchor_p[-1] - bar_anchor_p[-2])
    t = np.where(p < bar_anchor_p[0], bar_anchor_t[0] + (p - bar_anchor_p[0]) * lo, t)
    t = np.where(p > bar_anchor_p[-1], bar_anchor_t[-1] + (p - bar_anchor_p[-1]) * hi, t)
    return t


def fx(x):
    return x / W


def fy(y):
    return 1 - y / H


fig = plt.figure(figsize=(W / 100, H / 100), dpi=100)
fig.patch.set_facecolor('white')

ax = fig.add_axes([fx(15), fy(894), fx(2045) - fx(15), fy(41) - fy(894)])
rax = fig.add_axes([fx(15), fy(1183), fx(2045) - fx(15), fy(894) - fy(1183)], sharex=ax)
ax.set_xscale('function', functions=(time_fwd, time_inv))

for a in (ax, rax):
    for s in a.spines.values():
        s.set_visible(False)
    a.set_axisbelow(True)
    a.yaxis.tick_right()
    a.tick_params(axis='both', length=0, colors=TEXT, labelsize=13.8)
    a.tick_params(axis='y', pad=9.5)
    a.grid(True, color=GRID, lw=1.1)

ax.set_xlim(*x_range)
ax.set_ylim(1.688, 5.358)
ax.set_xticks(x_ticks)
ax.tick_params(axis='x', labelbottom=False)
ax.set_yticks(price_ticks, [f'{v:.3f}%' if v <= 4.61 else '' for v in price_ticks])
for lbl, v in zip(ax.get_yticklabels(), price_ticks):
    if abs(v - round(v)) < 1e-6:
        lbl.set_fontweight('bold')

pt, pv = np.array(price_pts).T
ax.plot(pt, pv, color='black', lw=2.6, zorder=5, solid_joinstyle='round')

for line, col in ((upper_line, RED), (lower_line, RED), (blue_line, BLUE)):
    lt, lv = zip(*line)
    ax.plot(lt, lv, color=col, lw=2.8, solid_capstyle='butt', zorder=4)

ax.plot([high_start, x_range[1]], [high_level] * 2, color=ORANGE, lw=2.2,
        linestyle=(0, (5.2, 5.6)), zorder=3)
ax.plot([recent_start, x_range[1]], [recent_level] * 2, color=ORANGE, lw=2.6,
        linestyle=(0, (3.3, 5.9)), zorder=3)
ax.axhline(last_close, color=TEXT, lw=1.1, linestyle=(0, (1, 3.2)), zorder=3)

# RSI pane
rax.set_xlim(*x_range)
rax.set_ylim(14.9, 89.1)
rax.set_yticks(rsi_ticks, [f'{v:.2f}' for v in rsi_ticks])
rax.set_xticks(x_ticks, x_labels)
rax.tick_params(axis='x', pad=8)
for lbl in rax.get_xticklabels():
    if lbl.get_text() != 'Jul':
        lbl.set_fontweight('bold')
rax.axhspan(30, 70, color='#F2EEF9', zorder=0.2, lw=0)
rax.axhline(70, color='#787B86', lw=1.3, linestyle=(0, (5.5, 4.5)), zorder=1)
rax.axhline(30, color='#787B86', lw=1.3, linestyle=(0, (5.5, 4.5)), zorder=1)
rax.axhline(50, color='#A3A6AF', lw=1.2, linestyle=(0, (4.5, 6.5)), zorder=1)
rt, rv = np.array(rsi_pts).T
mt, mv = np.array(rsi_ma_pts).T
rax.plot(mt, mv, color=YELLOW, lw=1.5, zorder=3)
rax.plot(rt, rv, color=PURPLE, lw=1.4, zorder=4)

fig.canvas.draw()
ident = IdentityTransform()


def tag(a, value, text, bg, fg, shift=0, right=2131):
    y = a.transData.transform((x_range[0], value))[1] + shift
    fig.add_artist(FancyBboxPatch((2047, y - 12.5), right - 2047, 25,
                                  boxstyle='round,pad=0,rounding_size=3',
                                  transform=ident, fc=bg, ec='none', zorder=10))
    fig.text(2058, y, text, transform=ident, color=fg, fontsize=13.8,
             va='center_baseline', ha='left', zorder=11)


tag(ax, high_level, f'{high_level:.3f}%', ORANGE, TEXT)
tag(ax, recent_level, f'{recent_level:.3f}%', ORANGE, TEXT, shift=25)
tag(ax, last_close, f'{last_close:.3f}%', '#000000', 'white')
tag(rax, rsi_last, f'{rsi_last:.2f}', PURPLE, 'white', right=2116)
tag(rax, rsi_ma_last, f'{rsi_ma_last:.2f}', '#FBD43B', TEXT, shift=-17, right=2116)

# frame and pane separators
border = '#E0E3EB'
fig.add_artist(Rectangle((fx(15), fy(1221)), fx(2141) - fx(15), fy(41) - fy(1221),
                         transform=fig.transFigure, fill=False, ec=border, lw=1.2))
fig.add_artist(plt.Line2D([fx(15), fx(2141)], [fy(894)] * 2, color=border, lw=1.2,
                          transform=fig.transFigure))
fig.add_artist(FancyBboxPatch((fx(2051), fy(85)), fx(84), 37 / H,
                              boxstyle='round,pad=0,rounding_size=0.004',
                              transform=fig.transFigure, fill=False, ec='#EEF0F3', lw=1))
fig.text(fx(2066), fy(67), '%', color=TEXT, fontsize=13.8, va='center')

fig.text(fx(15), fy(24), 'Jay1104 created with TradingView.com, Aug 29, 2026 12:06 UTC-4',
         color=TEXT, fontsize=14, va='center')
fig.text(fx(28), fy(65),
         'US Government Bonds 10 YR Yield \u00b7 1D \u00b7 TVC  4.730%  +0.054 (+1.15%)',
         color=TEXT, fontsize=14, va='center')

# RSI legend, pieces chained left to right
renderer = fig.canvas.get_renderer()
x = 28
for txt, col in (('RSI (14, close)', TEXT), (f'{rsi_last:.2f}', PURPLE),
                 (f'{rsi_ma_last:.2f}', '#F2C94C')):
    t = fig.text(x, H - 917, txt, transform=ident, color=col, fontsize=13.5,
                 va='center')
    x = t.get_window_extent(renderer).x1 + 12

# TradingView logo
s = 1.22
ox, oy = 18, 1256


def lp(px, py):
    return (fx(ox + px * s), fy(oy + (py - 4) * s))


fig.add_artist(Polygon([lp(0, 4), lp(14, 4), lp(14, 22), lp(7, 22), lp(7, 11), lp(0, 11)],
                       closed=True, transform=fig.transFigure, fc=TEXT, ec='none'))
fig.add_artist(Polygon([lp(20, 22), lp(27.5, 4), lp(35.5, 4), lp(28, 22)],
                       closed=True, transform=fig.transFigure, fc=TEXT, ec='none'))
cx, cy = lp(20, 8)
fig.add_artist(Circle((cx * W, cy * H), 4 * s, transform=ident, fc=TEXT, ec='none'))
fig.text(fx(74), fy(1278), 'TradingView', color=TEXT, fontsize=23, fontweight='bold',
         va='baseline')

fig.savefig('out.png', dpi=100, facecolor='white')
